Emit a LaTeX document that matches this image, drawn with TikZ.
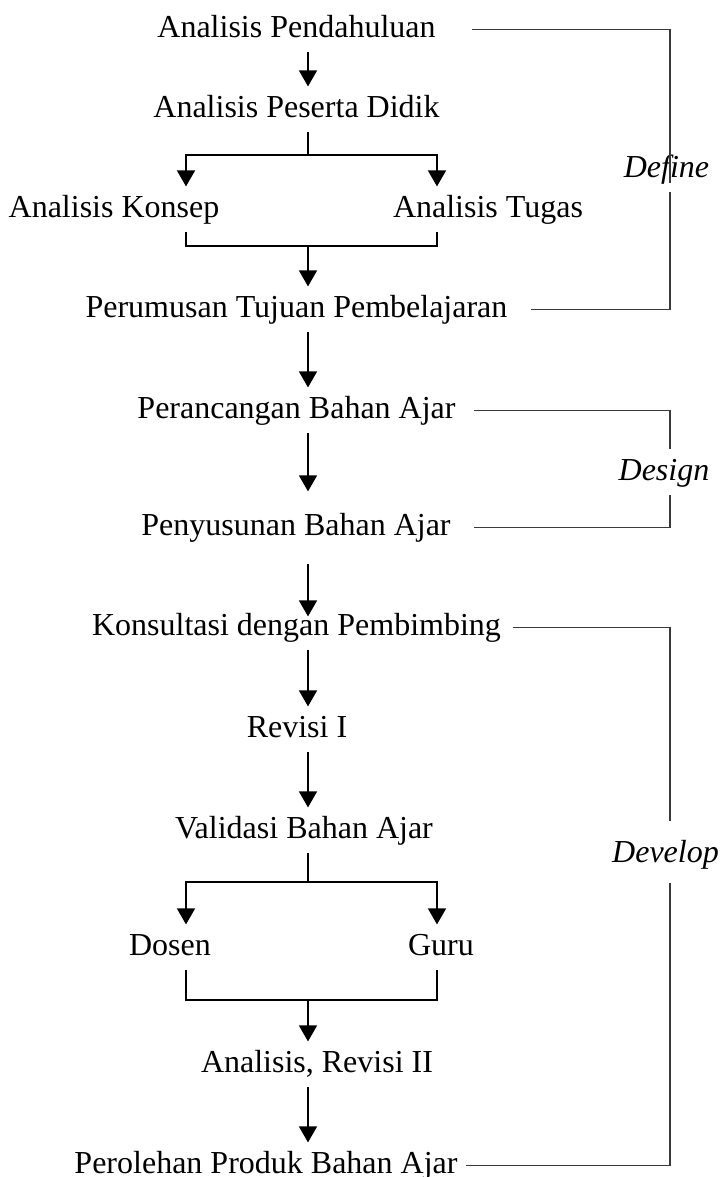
\documentclass[tikz,border=0pt]{standalone}
\usepackage{fontspec}
\setmainfont{Liberation Serif}
\usetikzlibrary{arrows.meta}
\definecolor{Black80}{HTML}{3A3A3A}

\begin{document}
\begin{tikzpicture}[
    x=0.375pt, y=-0.375pt,
    every node/.style={font=\fontsize{12}{14}\selectfont},
    stage/.style={anchor=base, inner xsep=0pt, inner ysep=3pt, text height=8.25pt, text depth=2.6pt},
    phase/.style={stage, font=\fontsize{12}{14}\selectfont\itshape},
    arrow/.style={-{Triangle[length=6pt, width=6.6pt]}, draw=black, line width=1pt},
    link/.style={draw=black, line width=0.45pt},
    bracket/.style={draw=Black80, line width=0.45pt}
]
\useasboundingbox (0,0) rectangle (722,1177);

% Define
\node[stage] (S1) at (296.5,37) {Analisis Pendahuluan};
\node[stage] (S2) at (296.5,117) {Analisis Peserta Didik};
\node[stage] (S3a) at (114,217) {Analisis Konsep};
\node[stage] (S3b) at (488,217) {Analisis Tugas};
\node[stage] (S4) at (296.5,317) {Perumusan Tujuan Pembelajaran};

% Design
\node[stage] (S5) at (296.5,418) {Perancangan Bahan Ajar};
\node[stage] (S6) at (296,535) {Penyusunan Bahan Ajar};

% Develop
\node[stage] (S7) at (296.5,635) {Konsultasi dengan Pembimbing};
\node[stage] (S8) at (297,737) {Revisi I};
\node[stage] (S9) at (304,838) {Validasi Bahan Ajar};
\node[stage] (S10a) at (170,955) {Dosen};
\node[stage] (S10b) at (441,955) {Guru};
\node[stage] (S11) at (317,1072) {Analisis, Revisi II};
\node[stage] (S12) at (266,1173) {Perolehan Produk Bahan Ajar};

% Phase labels
\node[phase] (Def) at (666.5,177) {Define};
\node[phase] (Des) at (664,480) {Design};
\node[phase] (Dev) at (665.5,862) {Develop};

\coordinate (axis) at (308,0);
\coordinate (lt) at (186,0);
\coordinate (rt) at (437,0);
\coordinate (rail) at (670,0);
\coordinate (B1) at (308,155);
\coordinate (J1) at (308,246);
\coordinate (B2) at (308,882);
\coordinate (J2) at (308,1000);

% Flow
\draw[arrow] (S1.south -| axis) -- (S2.north -| axis);
\draw[link] (S2.south -| axis) -- (B1);
\draw[arrow] (B1) -| (S3a.north -| lt);
\draw[arrow] (B1) -| (S3b.north -| rt);
\draw[link] (S3a.south -| lt) |- (J1) -| (S3b.south -| rt);
\draw[arrow] (J1) -- (S4.north -| axis);
\draw[arrow] (S4.south -| axis) -- (S5.north -| axis);
\draw[arrow, shorten >=4.9pt] (S5.south -| axis) -- (S6.north -| axis);
\draw[arrow, shorten <=4.9pt, shorten >=-4.5pt] (S6.south -| axis) -- (S7.north -| axis);
\draw[arrow] (S7.south -| axis) -- (S8.north -| axis);
\draw[arrow] (S8.south -| axis) -- (S9.north -| axis);
\draw[link] (S9.south -| axis) -- (B2);
\draw[arrow] (B2) -| (S10a.north -| lt);
\draw[arrow] (B2) -| (S10b.north -| rt);
\draw[link] (S10a.south -| lt) |- (J2) -| (S10b.south -| rt);
\draw[arrow] (J2) -- (S11.north -| axis);
\draw[arrow] (S11.south -| axis) -- (S12.north -| axis);

% Brackets
\draw[bracket, shorten <=13.5pt, shorten >=-2.25pt] (S1.east) -| (Def.base -| rail);
\draw[bracket, shorten >=8.6pt] (Def.south -| rail) |- (S4.east);
\draw[bracket, shorten <=6.75pt] (S5.east) -| (Des.north -| rail);
\draw[bracket, shorten >=8.6pt] (Des.south -| rail) |- (S6.east);
\draw[bracket, shorten <=4.5pt, shorten >=3.75pt] (S7.east) -| (Dev.north -| rail);
\draw[bracket, shorten <=2.25pt, shorten >=3pt] (Dev.south -| rail) |- (S12.east);

\end{tikzpicture}
\end{document}
